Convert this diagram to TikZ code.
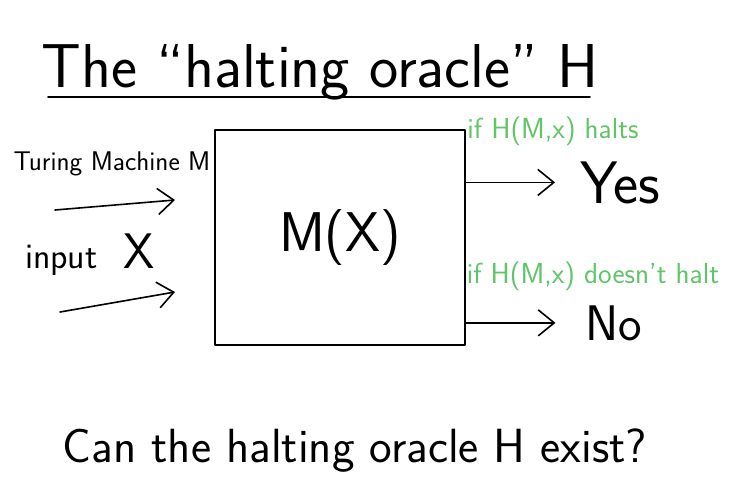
\documentclass[tikz,border=0pt]{standalone}
\usepackage{xcolor}
\usepackage{tikz}
\usetikzlibrary{arrows.meta, positioning}
\definecolor{notegreen}{RGB}{96,196,104}
\tikzset{
  ink/.style={line width=1.6pt, line cap=round, line join=round},
  inkarrow/.style={ink, -{Straight Barb[length=16pt,width=26pt,line width=1.6pt]}},
  hand/.style={inner sep=0pt, anchor=base, font=\sffamily\fontsize{#1}{#1}\selectfont},
  note/.style={inner sep=0pt, anchor=base, text=notegreen, font=\sffamily\fontsize{29}{29}\selectfont}
}

\begin{document}
\begin{tikzpicture}[x=1pt, y=-1pt]
  \useasboundingbox (0,0) rectangle (735,492);
  % title
  \node[hand=62] (title) at (320,88) {The ``halting oracle'' H};
  \draw[ink] (48,97) -- (590,97);
  % the oracle box
  \node[ink, draw, minimum width=250pt, minimum height=215pt,
        font=\sffamily\fontsize{56}{56}\selectfont] (box) at (340,237.5) {M(X)};
  % inputs
  \node[hand=27] (tm) at (112,170) {Turing Machine M};
  \node[hand=36] (inp) at (90,268) {input\hspace{26pt}{\fontsize{50}{50}\selectfont X}};
  \coordinate (tmtail) at (55,210);
  \coordinate (tmhead) at (175,200);
  \coordinate (inptail) at (60,312);
  \coordinate (inphead) at (175,292);
  \draw[inkarrow] (tmtail) -- (tmhead);
  \draw[inkarrow] (inptail) -- (inphead);
  % outputs
  \node[hand=60] (yes) at (620,203) {Yes};
  \node[hand=50] (no) at (614,340) {No};
  \node[note] (halts) at (553,138) {if H(M,x) halts};
  \node[note] (nohalt) at (593,283) {if H(M,x) doesn't halt};
  \draw[inkarrow] (box.east |- yes.center) -- ([xshift=-25pt]yes.west);
  \draw[inkarrow] (box.east |- no.center) -- ([xshift=-30pt]no.west);
  % question
  \node[hand=48] (ask) at (355,462) {Can the halting oracle H exist?};
\end{tikzpicture}
\end{document}
